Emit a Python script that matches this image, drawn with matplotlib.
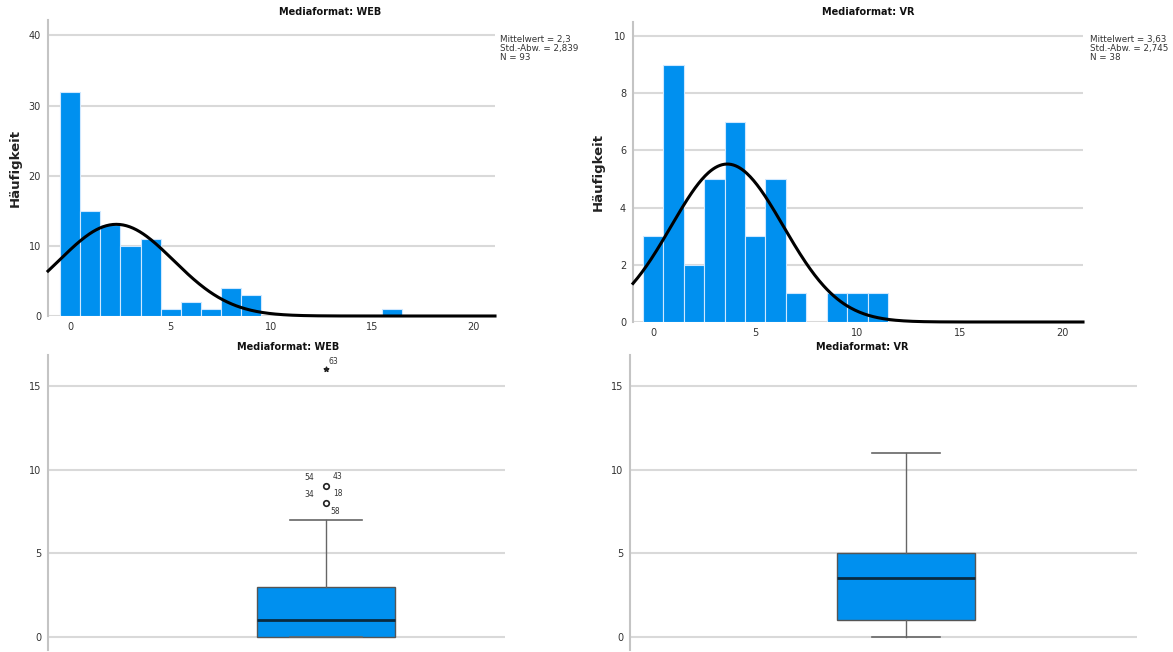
import numpy as np
import matplotlib
matplotlib.use("Agg")
import matplotlib.pyplot as plt

# ---------------- data ----------------
web_values = [0, 1, 2, 3, 4, 5, 6, 7, 8, 9, 16]
web_counts = [32, 15, 13, 10, 11, 1, 2, 1, 4, 3, 1]
vr_values = [0, 1, 2, 3, 4, 5, 6, 7, 9, 10, 11]
vr_counts = [3, 9, 2, 5, 7, 3, 5, 1, 1, 1, 1]

web_mean, web_sd, web_n = 2.3, 2.839, 93
vr_mean, vr_sd, vr_n = 3.63, 2.745, 38
web_stats_text = ["Mittelwert = 2,3", "Std.-Abw. = 2,839", "N = 93"]
vr_stats_text = ["Mittelwert = 3,63", "Std.-Abw. = 2,745", "N = 38"]

# boxplot summaries
web_box = dict(whislo=0, q1=0, med=1, q3=3, whishi=7)
vr_box = dict(whislo=0, q1=1, med=3.5, q3=5, whishi=11)
web_outliers = [9, 8]
web_outlier_labels = [("54", "43"), ("34", "18", "58")]
web_extreme = [16]
web_extreme_labels = ["63"]

hist_xticks = [0, 5, 10, 15, 20]
web_hist_yticks = [0, 10, 20, 30, 40]
vr_hist_yticks = [0, 2, 4, 6, 8, 10]
box_yticks = [0, 5, 10, 15]

# ---------------- style ----------------
BAR = "#0090ef"
GRID = "#d9d9d9"
SPINE = "#c4c4c4"
TXT = "#333333"
W, H = 1173, 652

fig = plt.figure(figsize=(W / 100, H / 100), dpi=100)
plt.rcParams["font.family"] = ["DejaVu Sans"]


def px_axes(l, t, r, b):
    return fig.add_axes([l / W, 1 - b / H, (r - l) / W, (b - t) / H])


def style(ax, yticks):
    for s in ["top", "right", "bottom"]:
        ax.spines[s].set_visible(False)
    ax.spines["left"].set_color(SPINE)
    ax.spines["left"].set_linewidth(1.5)
    ax.set_yticks(yticks)
    ax.tick_params(length=0, labelsize=7, colors=TXT, pad=5)
    for y in yticks:
        ax.axhline(y, color=GRID, lw=1.5, zorder=0)


def hist_panel(ax, vals, counts, mean, sd, n, xlim, ylim, yticks, label_x):
    ax.bar(vals, counts, width=1.0, color=BAR, edgecolor="#cfe8ff",
           linewidth=0.8, zorder=2)
    xs = np.linspace(xlim[0], xlim[1], 400)
    ys = n * 1.0 / (sd * np.sqrt(2 * np.pi)) * np.exp(-0.5 * ((xs - mean) / sd) ** 2)
    ax.plot(xs, ys, color="black", lw=2.2, zorder=3, clip_on=False)
    ax.set_xlim(*xlim)
    ax.set_ylim(*ylim)
    ax.set_xticks(hist_xticks)
    style(ax, yticks)
    ax.tick_params(axis="x", pad=4)
    ax.set_ylabel("Häufigkeit", fontsize=9.5, fontweight="bold", color="#222222")
    ax.yaxis.set_label_coords(label_x, 0.5)


# top-left
ax1 = px_axes(48, 20, 495, 316)
hist_panel(ax1, web_values, web_counts, web_mean, web_sd, web_n,
           (-1.09, 21.09), (0, 42.2), web_hist_yticks, -0.058)
fig.text(500 / W, 1 - 35 / H, "\n".join(web_stats_text), fontsize=6.3,
         color=TXT, va="top", ha="left", linespacing=1.0)
fig.text(330 / W, 1 - 12 / H, "Mediaformat: WEB", fontsize=7, fontweight="bold",
         ha="center", va="center", color="#111111")

# top-right
ax2 = px_axes(633, 22, 1083, 322)
hist_panel(ax2, vr_values, vr_counts, vr_mean, vr_sd, vr_n,
           (-0.98, 21.03), (0, 10.49), vr_hist_yticks, -0.062)
fig.text(1090 / W, 1 - 35 / H, "\n".join(vr_stats_text), fontsize=6.3,
         color=TXT, va="top", ha="left", linespacing=1.0)
fig.text(868 / W, 1 - 12 / H, "Mediaformat: VR", fontsize=7, fontweight="bold",
         ha="center", va="center", color="#111111")


def box_panel(ax, stats, pos, width, capw):
    st = dict(stats)
    st["fliers"] = []
    ax.bxp([st], positions=[pos], widths=[width], patch_artist=True,
           showfliers=False, capwidths=[capw],
           boxprops=dict(facecolor=BAR, edgecolor="#555555", linewidth=1.0),
           medianprops=dict(color="#0a2a40", linewidth=2.0),
           whiskerprops=dict(color="#666666", linewidth=1.0),
           capprops=dict(color="#666666", linewidth=1.2), zorder=3)
    ax.set_xlim(0, 1)
    ax.set_ylim(-0.78, 16.85)
    ax.set_xticks([])
    style(ax, box_yticks)


# bottom-left
ax3 = px_axes(48, 355, 505, 650)
box_panel(ax3, web_box, 0.608, 0.302, 0.158)
ax3.scatter([0.608] * len(web_outliers), web_outliers, s=16, facecolor="white",
            edgecolor="#222222", linewidth=1.2, zorder=4)
ax3.scatter([0.608] * len(web_extreme), web_extreme, marker="*", s=12,
            color="#222222", zorder=4)
for y, labs in zip(web_outliers, web_outlier_labels):
    ax3.annotate(labs[0], (0.608, y), xytext=(-12, 3), textcoords="offset points",
                 fontsize=5.5, color=TXT, ha="center", va="bottom")
    ax3.annotate(labs[1], (0.608, y), xytext=(5, 4), textcoords="offset points",
                 fontsize=5.5, color=TXT, ha="left", va="bottom")
    if len(labs) > 2:
        ax3.annotate(labs[2], (0.608, y), xytext=(3, -3), textcoords="offset points",
                     fontsize=5.5, color=TXT, ha="left", va="top")
for y, lab in zip(web_extreme, web_extreme_labels):
    ax3.annotate(lab, (0.608, y), xytext=(2, 2), textcoords="offset points",
                 fontsize=5.5, color=TXT, ha="left", va="bottom")
fig.text(288 / W, 1 - 347 / H, "Mediaformat: WEB", fontsize=7, fontweight="bold",
         ha="center", va="center", color="#111111")

# bottom-right
ax4 = px_axes(630, 355, 1137, 650)
box_panel(ax4, vr_box, 0.544, 0.272, 0.134)
fig.text(862 / W, 1 - 347 / H, "Mediaformat: VR", fontsize=7, fontweight="bold",
         ha="center", va="center", color="#111111")

fig.savefig("out.png", dpi=100, facecolor="white")
